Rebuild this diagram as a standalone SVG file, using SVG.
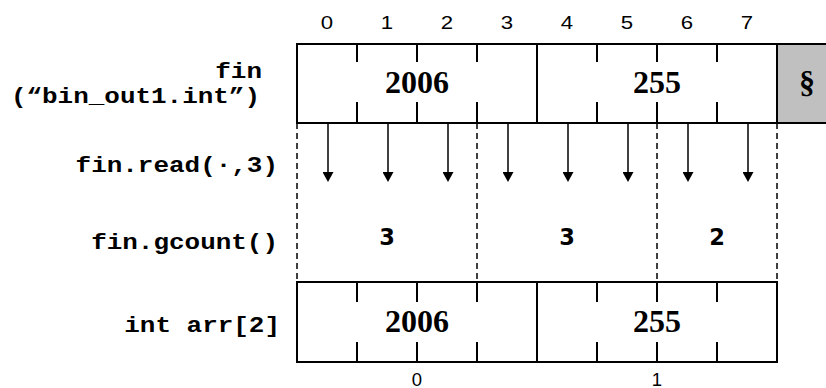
<svg xmlns="http://www.w3.org/2000/svg" width="826" height="388" viewBox="0 0 826 388">
  <style>
    .box { fill: #ffffff; stroke: #000000; stroke-width: 2; }
    .pad { fill: #c0c0c0; stroke: #000000; stroke-width: 2; }
    .tick { stroke: #000000; stroke-width: 2; fill: none; }
    .dash { stroke: #000000; stroke-width: 1.5; stroke-dasharray: 6 4; fill: none; }
    .arrow { stroke: #000000; stroke-width: 1.5; fill: none; marker-end: url(#head); }
    .code { font-family: "Liberation Mono", "Courier New", monospace; font-weight: bold; font-size: 22px; fill: #000000; text-anchor: end; }
    .val { font-family: "Liberation Serif", "Times New Roman", serif; font-weight: bold; font-size: 32px; fill: #000000; text-anchor: middle; }
    .idx { font-family: "Liberation Sans", Arial, sans-serif; font-size: 18.5px; fill: #000000; text-anchor: middle; }
    .cnt { font-family: "DejaVu Sans", Verdana, sans-serif; font-weight: bold; font-size: 22.5px; fill: #000000; text-anchor: middle; }
  </style>
  <defs>
    <marker id="head" viewBox="0 0 10 11" refX="0" refY="5.5" markerWidth="10" markerHeight="11" markerUnits="userSpaceOnUse" orient="auto">
      <path d="M0,0 L10,5.5 L0,11 z" fill="#000000"/>
    </marker>
  </defs>

  <rect width="826" height="388" fill="#ffffff"/>

  <!-- byte offsets in the file -->
  <g id="byte-offsets" class="idx">
    <text transform="translate(327,28.5) scale(1.2,1)">0</text>
    <text transform="translate(387,28.5) scale(1.2,1)">1</text>
    <text transform="translate(447,28.5) scale(1.2,1)">2</text>
    <text transform="translate(507,28.5) scale(1.2,1)">3</text>
    <text transform="translate(567,28.5) scale(1.2,1)">4</text>
    <text transform="translate(627,28.5) scale(1.2,1)">5</text>
    <text transform="translate(687,28.5) scale(1.2,1)">6</text>
    <text transform="translate(747,28.5) scale(1.2,1)">7</text>
  </g>

  <!-- row captions (monospace, widened) -->
  <g id="captions" class="code">
    <text transform="translate(262,78) scale(1.18,1)">fin</text>
    <text transform="translate(260,103) scale(1.18,1)">(“bin_out1.int”)</text>
    <text transform="translate(278,172) scale(1.18,1)">fin.read(·,3)</text>
    <text transform="translate(278,249) scale(1.18,1)">fin.gcount()</text>
    <text transform="translate(280,332) scale(1.18,1)">int arr[2]</text>
  </g>

  <!-- file contents: two ints plus end-of-file marker -->
  <g id="file">
    <rect class="pad" x="777" y="44" width="60" height="79"/>
    <rect class="box" x="297" y="44" width="480" height="79"/>
    <path class="tick" d="M537,44 V123
      M357,44 V62 M417,44 V62 M477,44 V62 M597,44 V62 M657,44 V62 M717,44 V62
      M357,102 V123 M417,102 V123 M477,102 V123 M597,102 V123 M657,102 V123 M717,102 V123"/>
    <text class="val" x="417" y="93">2006</text>
    <text class="val" x="657" y="93">255</text>
    <text class="val" x="807" y="93" font-size="31">§</text>
  </g>

  <!-- read chunks and their counts -->
  <g id="chunks">
    <path class="dash" d="M297,123 V282 M477,123 V282 M657,123 V282 M777,123 V282"/>
    <text class="cnt" x="387" y="245">3</text>
    <text class="cnt" x="567" y="245">3</text>
    <text class="cnt" x="717" y="245">2</text>
  </g>

  <!-- byte transfers -->
  <g id="connectors">
    <path class="arrow" d="M328,124 V172"/>
    <path class="arrow" d="M388,124 V172"/>
    <path class="arrow" d="M448,124 V172"/>
    <path class="arrow" d="M508,124 V172"/>
    <path class="arrow" d="M568,124 V172"/>
    <path class="arrow" d="M628,124 V172"/>
    <path class="arrow" d="M688,124 V172"/>
    <path class="arrow" d="M748,124 V172"/>
  </g>

  <!-- destination array -->
  <g id="arr">
    <rect class="box" x="297" y="282" width="480" height="80"/>
    <path class="tick" d="M537,282 V362
      M357,282 V302 M417,282 V302 M477,282 V302 M597,282 V302 M657,282 V302 M717,282 V302
      M357,342 V362 M417,342 V362 M477,342 V362 M597,342 V362 M657,342 V362 M717,342 V362"/>
    <text class="val" x="417" y="332">2006</text>
    <text class="val" x="657" y="332">255</text>
    <text class="idx" x="417" y="385.5">0</text>
    <text class="idx" x="657" y="385.5">1</text>
  </g>
</svg>
